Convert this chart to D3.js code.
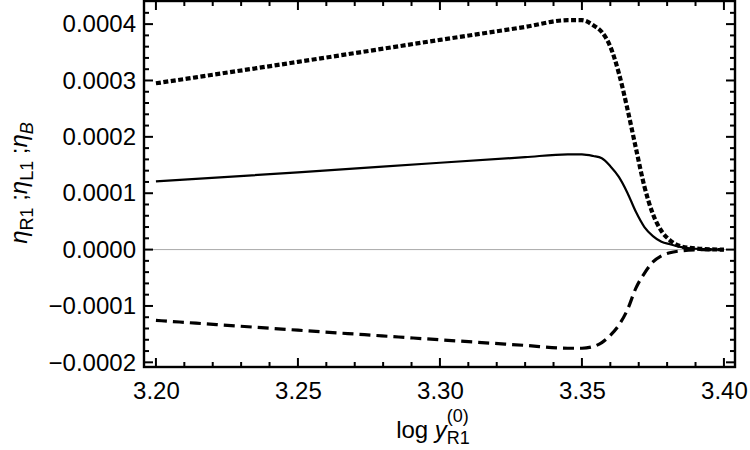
<!DOCTYPE html>
<html>
<head>
<meta charset="utf-8">
<script src="https://cdn.jsdelivr.net/npm/d3@7"></script>
<style>
  body { margin: 0; background: #fff; }
  svg text { font-family: "Liberation Sans", Arial, sans-serif; fill: #000; }
</style>
</head>
<body>
<svg id="chart" width="750" height="450"></svg>
<script>
// sample points (log y_R1^(0))
const xs = [3.20, 3.25, 3.30, 3.33, 3.345, 3.35, 3.354, 3.357, 3.36, 3.363, 3.366, 3.369, 3.372, 3.375, 3.378, 3.381, 3.385, 3.39, 3.395, 3.40]

// solid line
const etaR1 = [0.000121, 0.000137, 0.000154, 0.000164, 0.000169, 0.000169, 0.000166, 0.000162, 0.000148, 0.000129, 0.000101, 0.000067, 0.000040, 0.000024, 0.000014, 0.0000094, 0.0000045, 0.0000015, 0.0000005, 0]
// dashed line
const etaL1 = [-0.0001256, -0.000143, -0.000160, -0.000170, -0.000175, -0.000175, -0.000172, -0.000165, -0.000152, -0.000134, -0.000107, -0.0000684, -0.000042, -0.000022, -0.000011, -0.0000055, -0.0000022, -0.0000005, 0, 0]
// dotted line
const etaB = [0.000295, 0.000333, 0.000372, 0.000395, 0.000407, 0.000407, 0.000398, 0.000386, 0.000360, 0.000313, 0.000250, 0.000180, 0.000112, 0.000063, 0.000033, 0.0000165, 0.0000055, 0.000002, 0.0000005, 0]

const xTicks = [3.20, 3.25, 3.30, 3.35, 3.40]
const yTicks = [-0.0002, -0.0001, 0, 0.0001, 0.0002, 0.0003, 0.0004]

const svg = d3.select("#chart")
const mLeft = 144, mRight = 735, mTop = 1, mBottom = 367

const x = d3.scaleLinear().domain([3.1958, 3.4039]).range([mLeft, mRight])
const y = d3.scaleLinear().domain([-0.0002083, 0.000441]).range([mBottom, mTop])

const xMinor = d3.range(3.20, 3.4001, 0.01).filter(v => !xTicks.some(t => Math.abs(t - v) < 1e-6))
const yMinor = d3.range(-0.0002, 0.00044, 0.00002).filter(v => !yTicks.some(t => Math.abs(t - v) < 1e-9))

// zero line
svg.append("line")
    .attr("x1", mLeft).attr("x2", mRight)
    .attr("y1", y(0)).attr("y2", y(0))
    .attr("stroke", "#aaa").attr("stroke-width", 1)

const fmtY = d3.format(".4f")
const fmtX = d3.format(".2f")

// tick labels via d3 axes (tick marks drawn separately below)
const gy = svg.append("g").attr("transform", `translate(${mLeft},0)`)
    .call(d3.axisLeft(y).tickValues(yTicks).tickSize(0).tickPadding(8).tickFormat(fmtY))
const gx = svg.append("g").attr("transform", `translate(0,${mBottom})`)
    .call(d3.axisBottom(x).tickValues(xTicks).tickSize(0).tickPadding(15).tickFormat(fmtX))
for (const g of [gy, gx]) {
    g.select(".domain").remove()
    g.selectAll("line").remove()
    g.selectAll("text").style("font-size", "24px")
}

// inward tick marks on all four sides
const ticks = svg.append("g").attr("stroke", "#000").attr("stroke-width", 2)
const vTicks = (vals, len, x0, dir) => ticks.selectAll(null).data(vals).join("line")
    .attr("x1", x0).attr("x2", x0 + dir * len)
    .attr("y1", d => y(d)).attr("y2", d => y(d))
const hTicks = (vals, len, y0, dir) => ticks.selectAll(null).data(vals).join("line")
    .attr("y1", y0).attr("y2", y0 + dir * len)
    .attr("x1", d => x(d)).attr("x2", d => x(d))
vTicks(yTicks, 9, mLeft, 1); vTicks(yMinor, 5, mLeft, 1)
vTicks(yTicks, 9, mRight, -1); vTicks(yMinor, 5, mRight, -1)
hTicks(xTicks, 9, mBottom, -1); hTicks(xMinor, 5, mBottom, -1)
hTicks(xTicks, 9, mTop, 1); hTicks(xMinor, 5, mTop, 1)

// curves
const line = vals => d3.line()
    .x((d, i) => x(xs[i]))
    .y(d => y(d))
    .curve(d3.curveMonotoneX)(vals)

svg.append("path").attr("d", line(etaR1))
    .attr("fill", "none").attr("stroke", "#000").attr("stroke-width", 2.2)
svg.append("path").attr("d", line(etaL1))
    .attr("fill", "none").attr("stroke", "#000").attr("stroke-width", 3.2)
    .attr("stroke-dasharray", "11,6")
svg.append("path").attr("d", line(etaB))
    .attr("fill", "none").attr("stroke", "#000").attr("stroke-width", 4.2)
    .attr("stroke-dasharray", "5,2.5")

// frame
svg.append("rect")
    .attr("x", mLeft).attr("y", mTop)
    .attr("width", mRight - mLeft).attr("height", mBottom - mTop)
    .attr("fill", "none").attr("stroke", "#000").attr("stroke-width", 2.4)

// x label
const xl = svg.append("text")
    .attr("x", 433).attr("y", 438)
    .attr("text-anchor", "middle")
    .style("font-size", "24px")
xl.append("tspan").text("log ")
xl.append("tspan").style("font-style", "italic").text("y")
xl.append("tspan").attr("dy", 6).style("font-size", "18px").text("R1")
xl.append("tspan").attr("dx", -23).attr("dy", -22).style("font-size", "18px").text("(0)")

// y label
const yl = svg.append("text")
    .attr("transform", "translate(27,183) rotate(-90)")
    .attr("text-anchor", "middle")
    .style("font-size", "24px")
const sub = (txt, italic) => {
    const t = yl.append("tspan").attr("dy", 6).style("font-size", "18px").text(txt)
    if (italic) t.style("font-style", "italic")
}
yl.append("tspan").style("font-style", "italic").text("η")
sub("R1")
yl.append("tspan").attr("dy", -6).text(" ;")
yl.append("tspan").style("font-style", "italic").text("η")
sub("L1")
yl.append("tspan").attr("dy", -6).text(" ;")
yl.append("tspan").style("font-style", "italic").text("η")
sub("B", true)
</script>
</body>
</html>
